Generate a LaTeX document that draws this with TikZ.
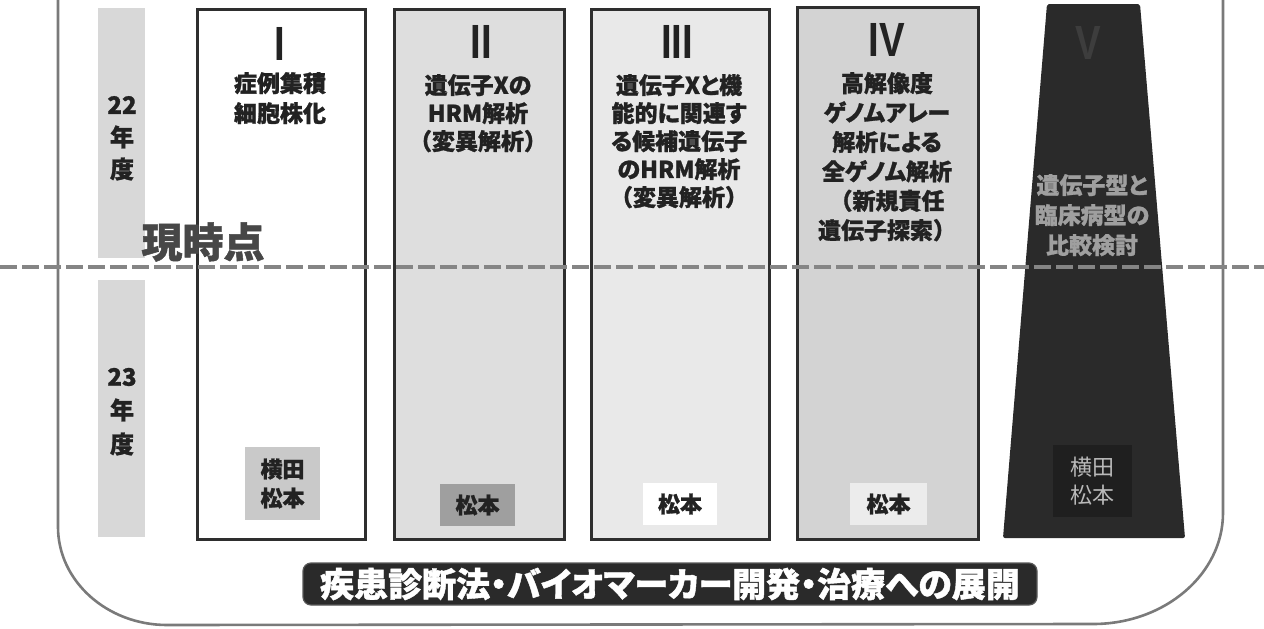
\documentclass[tikz,border=0pt]{standalone}
\usepackage{fontspec}
\usepackage{graphicx}
\setmainfont[RawFeature=+palt,BoldFeatures={FakeBold=1.2}]{Noto Sans CJK JP}
\newfontfamily\fw[BoldFeatures={FakeBold=1.2}]{Noto Sans CJK JP}
\newfontfamily\latin{Liberation Sans}
\definecolor{frameg}{HTML}{7A7A7A}
\definecolor{boxline}{HTML}{2E2E2E}
\definecolor{bandg}{HTML}{D8D8D8}
\definecolor{fillII}{HTML}{DEDEDE}
\definecolor{fillIII}{HTML}{E9E9E9}
\definecolor{fillIV}{HTML}{D3D3D3}
\definecolor{fillV}{HTML}{2A2A2A}
\definecolor{txt}{HTML}{222222}
\definecolor{nowg}{HTML}{474747}
\definecolor{dashg}{HTML}{858585}
\begin{document}
\begin{tikzpicture}[x=1pt,y=-1pt,
  framestyle/.style={draw=frameg,line width=2.6pt},
  colbox/.style={draw=boxline,line width=3pt,anchor=north west,inner sep=0pt},
  band/.style={fill=bandg,draw=none,anchor=north west,inner sep=0pt,minimum width=47pt},
  yeartxt/.style={font=\bfseries\fontsize{24}{28}\selectfont,text=txt,inner sep=0pt},
  title/.style={font=\bfseries\fontsize{23}{28}\selectfont,text=txt,align=center,anchor=north,inner sep=0pt},
  numeral/.style={font=\latin\bfseries\fontsize{48}{50}\selectfont,text=txt,inner sep=0pt},
  namebox/.style={inner sep=0pt,align=center,font=\bfseries\fontsize{22}{29}\selectfont,text=txt},
  dashline/.style={draw=dashg,line width=4pt,dash pattern=on 17pt off 5pt}
]
\useasboundingbox (0,0) rectangle (1264,629);
% outer frame
\draw[framestyle] (58,-5) -- (58,527) .. controls (58,581) and (107,625) .. (167,625)
  -- (1093,624) .. controls (1165,624) and (1223,574) .. (1223,513) -- (1223,-5);
% year bands
\node[band,minimum height=250pt] (band22) at (98,8) {};
\node[band,minimum height=257pt] (band23) at (98,280) {};
\node[yeartxt] (y22a) at (122,105) {22};
\node[yeartxt] (y22b) at (122,137) {年};
\node[yeartxt] (y22c) at (122,169) {度};
\node[yeartxt] (y23a) at (122,377) {23};
\node[yeartxt] (y23b) at (122,410) {年};
\node[yeartxt] (y23c) at (122,444) {度};
% column boxes
\node[colbox,fill=white,minimum width=168pt,minimum height=530pt] (b1) at (196,8) {};
\node[colbox,fill=fillII,minimum width=170pt,minimum height=530pt] (b2) at (393,8) {};
\node[colbox,fill=fillIII,minimum width=178pt,minimum height=530pt] (b3) at (590,8) {};
\node[colbox,fill=fillIV,minimum width=181pt,minimum height=532pt] (b4) at (796,6) {};
\fill[fillV,rounded corners=2pt] (1047,4) -- (1140,4) -- (1185,538) -- (1003,538) -- cycle;
% numerals
\node[numeral] (n1) at (280,44) {\scalebox{0.8}[1]{I}};
\node[numeral] (n2) at (481,42) {\scalebox{0.8}[1]{II}};
\node[numeral] (n3) at (677,42) {\scalebox{0.8}[1]{III}};
\node[numeral] (n4) at (887,40) {\scalebox{0.8}[1]{IV}};
\node[numeral,text=black!76] (n5) at (1088,43) {\scalebox{0.8}[1]{V}};
% titles
\node[title,font=\bfseries\fontsize{23}{30}\selectfont] (t1) at (280,72) {症例集積\\細胞株化};
\node[title] (t2) at (478,74) {遺伝子Xの\\HRM解析\\{\fw （}変異解析{\fw ）}};
\node[title] (t3) at (679,74) {遺伝子Xと機\\能的に関連す\\る候補遺伝子\\のHRM解析\\{\fw （}変異解析{\fw ）}};
\node[title,font=\bfseries\fontsize{23}{29.4}\selectfont] (t4) at (887,72) {高解像度\\ゲノムアレー\\解析による\\全ゲノム解析\\{\fw （}新規責任\\遺伝子探索{\fw ）}};
\node[title,text=gray!75!white,font=\bfseries\fontsize{23}{30}\selectfont] (t5) at (1092,174) {遺伝子型と\\臨床病型の\\比較検討};
% name labels
\node[namebox,fill=gray!42!white,minimum width=75pt,minimum height=73pt] (nm1) at (282.5,483.5) {横田\\松本};
\node[namebox,fill=gray!75!white,minimum width=75pt,minimum height=42pt] (nm2) at (477.5,505) {松本};
\node[namebox,fill=white,minimum width=74pt,minimum height=42pt] (nm3) at (680,504) {松本};
\node[namebox,fill=gray!15!white,minimum width=77pt,minimum height=42pt] (nm4) at (888.5,504) {松本};
\node[namebox,fill=black!88,text=gray!55!white,font=\fontsize{22}{28}\selectfont,minimum width=79pt,minimum height=72pt] (nm5) at (1092.5,481) {横田\\松本};
% dashed "now" line
\draw[dashline] (0,267) -- (1264,267);
% current point label
\node[font=\bfseries\fontsize{41}{41}\selectfont,text=nowg,inner sep=0pt] (now) at (203,242) {現時点};
% bottom banner
\node[draw=gray!70!black,line width=1.2pt,fill=fillV,rounded corners=8pt,minimum width=734pt,minimum height=42pt,inner sep=0pt,text=white,font=\bfseries\fontsize{34}{34}\selectfont] (banner) at (670,584) {疾患診断法・バイオマーカー開発・治療への展開};
\end{tikzpicture}
\end{document}
